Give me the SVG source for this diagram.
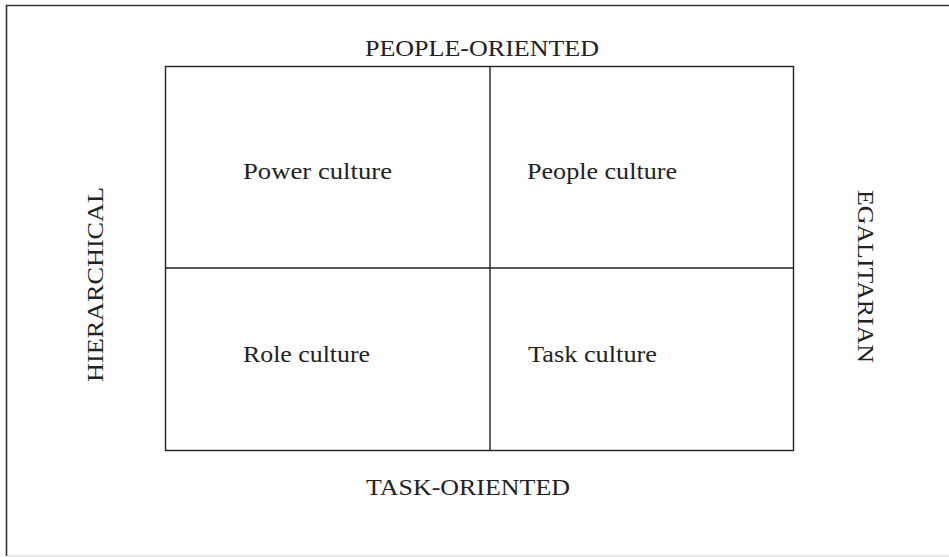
<svg xmlns="http://www.w3.org/2000/svg" width="949" height="557" viewBox="0 0 949 557">
<style>
.frame{fill:none;stroke:#333;stroke-width:1.6}
.grid{fill:none;stroke:#222;stroke-width:1.4}
text{font-family:"Liberation Serif","Times New Roman",serif;fill:#222}
.axis{font-size:23px}
.cell{font-size:23px}
</style>
<rect width="949" height="557" fill="#fff"/>
<g id="frame">
<path class="frame" d="M949,5.5 H6.5 V556"/>
<line x1="7" y1="556" x2="949" y2="556" stroke="#ddd" stroke-width="1.5"/>
</g>
<g id="connectors">
<rect class="grid" x="165.5" y="66.5" width="628" height="384"/>
<line class="grid" x1="490" y1="66.5" x2="490" y2="450.5"/>
<line class="grid" x1="165.5" y1="268" x2="793.5" y2="268"/>
</g>
<g id="people-oriented"><text class="axis" x="365" y="56" textLength="234" lengthAdjust="spacingAndGlyphs">PEOPLE-ORIENTED</text></g>
<g id="task-oriented"><text class="axis" x="366" y="495" textLength="204" lengthAdjust="spacingAndGlyphs">TASK-ORIENTED</text></g>
<g id="hierarchical"><text class="axis" transform="translate(103,382) rotate(-90)" x="0" y="0" textLength="195" lengthAdjust="spacingAndGlyphs">HIERARCHICAL</text></g>
<g id="egalitarian"><text class="axis" transform="translate(858,190) rotate(90)" x="0" y="0" textLength="173" lengthAdjust="spacingAndGlyphs">EGALITARIAN</text></g>
<g id="power-culture"><text class="cell" x="243" y="179" textLength="149" lengthAdjust="spacingAndGlyphs">Power culture</text></g>
<g id="people-culture"><text class="cell" x="527" y="179" textLength="150" lengthAdjust="spacingAndGlyphs">People culture</text></g>
<g id="role-culture"><text class="cell" x="243" y="362" textLength="127" lengthAdjust="spacingAndGlyphs">Role culture</text></g>
<g id="task-culture"><text class="cell" x="528" y="362" textLength="129" lengthAdjust="spacingAndGlyphs">Task culture</text></g>
</svg>
